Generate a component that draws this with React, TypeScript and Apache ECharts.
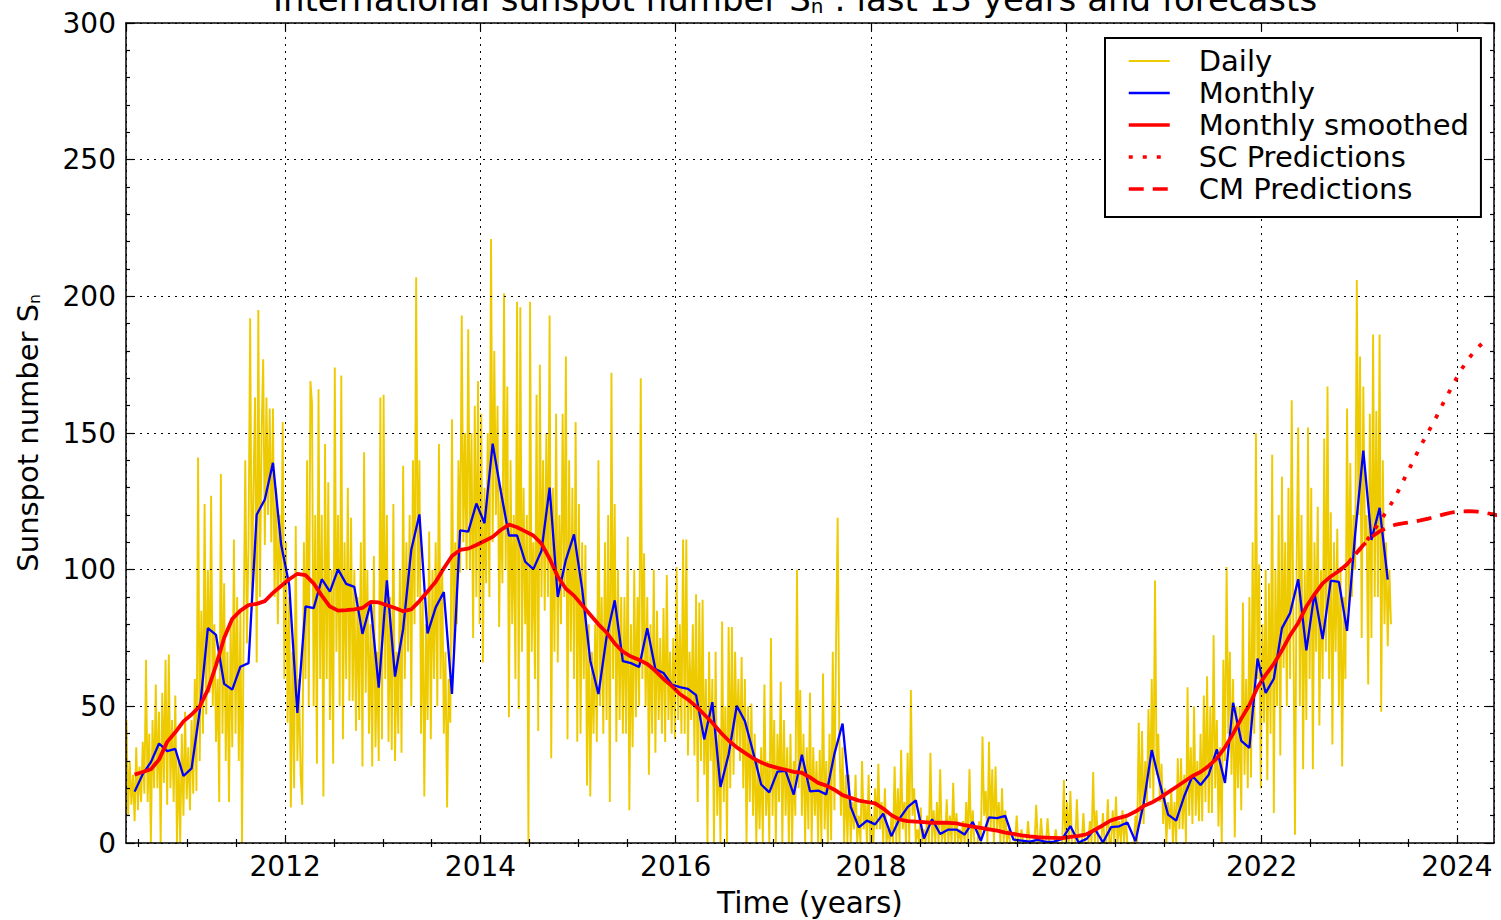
import React, { useEffect, useRef } from "react";
import * as echarts from "echarts";

// ---------------- data ----------------
// Daily sunspot number, sampled every 1/60 year starting at 2010.375
const DAILY_START = 2010.375;
const DAILY_STEP = 1 / 60;
const dailyValues: number[] = [
  45, 10, 30, 14, 25, 8, 35, 12, 28, 15, 37, 18, 67, 15, 40, 0, 45, 20, 58, 20, 48, 0, 55, 22,
  67, 14, 69, 20, 45, 15, 54, 0, 30, 0, 40, 10, 48, 16, 35, 12, 45, 18, 60, 19, 141, 30, 85, 40,
  124, 47, 100, 55, 127, 50, 80, 37, 60, 15, 135, 40, 95, 30, 70, 15, 80, 35, 111, 40, 90, 30, 85, 0,
  80, 140, 73, 110, 192, 85, 130, 163, 66, 195, 90, 150, 177, 109, 163, 120, 159, 110, 159, 90, 130, 80, 120, 95,
  154, 60, 110, 44, 90, 13, 70, 20, 116, 30, 60, 25, 14, 110, 60, 140, 50, 169, 161, 50, 120, 29, 166, 60,
  120, 17, 146, 60, 132, 45, 100, 29, 174, 70, 120, 50, 171, 38, 110, 60, 130, 52, 119, 52, 100, 41, 90, 45,
  110, 28, 143, 55, 100, 40, 80, 28, 105, 35, 70, 30, 163, 38, 164, 60, 120, 37, 90, 34, 124, 30, 70, 40,
  100, 33, 138, 60, 110, 70, 120, 50, 140, 80, 207, 90, 140, 40, 90, 17, 80, 45, 114, 38, 100, 60, 110, 50,
  146, 60, 100, 40, 70, 13, 60, 44, 155, 70, 110, 80, 140, 99, 193, 110, 150, 100, 188, 100, 150, 75, 160, 90,
  169, 80, 157, 66, 130, 95, 150, 90, 221, 110, 180, 120, 160, 79, 130, 95, 201, 100, 167, 46, 140, 80, 120, 60,
  198, 49, 196, 70, 130, 80, 120, 0, 198, 70, 110, 60, 164, 41, 175, 90, 140, 85, 150, 90, 193, 31, 130, 70,
  157, 66, 120, 80, 157, 90, 178, 38, 140, 70, 130, 60, 154, 37, 124, 40, 110, 60, 109, 21, 80, 17, 70, 40,
  80, 37, 140, 50, 90, 40, 110, 45, 120, 15, 172, 60, 124, 37, 100, 45, 90, 40, 90, 40, 112, 12, 80, 35,
  100, 46, 90, 50, 170, 60, 106, 50, 90, 25, 80, 40, 100, 33, 85, 45, 75, 40, 86, 37, 98, 45, 70, 40,
  75, 38, 101, 45, 80, 40, 111, 40, 111, 32, 70, 45, 80, 32, 91, 15, 88, 30, 89, 25, 60, 0, 70, 30,
  60, 0, 70, 10, 40, 0, 81, 15, 50, 0, 79, 20, 79, 25, 70, 35, 60, 30, 68, 20, 60, 0, 50, 15,
  51, 10, 40, 0, 30, 5, 35, 0, 58, 10, 30, 0, 75, 10, 45, 0, 40, 15, 59, 0, 45, 10, 35, 0,
  40, 0, 30, 10, 100, 20, 56, 10, 40, 0, 35, 5, 55, 0, 35, 10, 30, 0, 34, 0, 62, 5, 30, 0,
  40, 1, 70, 12, 73, 119, 41, 10, 35, 0, 25, 0, 25, 0, 15, 5, 25, 0, 10, 0, 30, 5, 15, 0,
  25, 0, 10, 0, 20, 5, 29, 5, 15, 0, 20, 0, 5, 0, 10, 0, 28, 0, 20, 0, 34, 5, 15, 0,
  33, 0, 56, 10, 20, 0, 5, 0, 13, 0, 5, 0, 10, 0, 33, 0, 12, 0, 15, 0, 27, 0, 8, 0,
  16, 0, 10, 0, 22, 0, 11, 0, 5, 0, 8, 0, 15, 0, 27, 0, 12, 0, 0, 0, 8, 0, 39, 10,
  19, 0, 37, 5, 27, 0, 28, 5, 15, 0, 20, 0, 12, 0, 5, 0, 0, 0, 0, 10, 0, 0, 5, 0,
  0, 0, 8, 0, 0, 0, 0, 14, 0, 0, 9, 0, 0, 0, 9, 0, 0, 0, 0, 5, 0, 0, 0, 0,
  23, 0, 15, 0, 19, 0, 0, 0, 16, 0, 0, 0, 11, 0, 0, 0, 8, 0, 26, 0, 12, 0, 0, 0,
  11, 0, 0, 16, 0, 0, 12, 0, 17, 0, 8, 0, 12, 0, 10, 0, 0, 0, 0, 0, 10, 0, 44, 7,
  41, 7, 30, 15, 49, 20, 60, 15, 96, 25, 40, 15, 29, 7, 20, 0, 15, 5, 20, 0, 15, 0, 31, 5,
  31, 5, 25, 0, 57, 10, 35, 7, 50, 10, 30, 8, 40, 8, 54, 15, 61, 11, 50, 11, 76, 20, 45, 6,
  35, 0, 67, 30, 101, 40, 70, 25, 60, 2, 50, 20, 50, 12, 88, 25, 60, 20, 90, 24, 110, 40, 150, 60,
  102, 20, 80, 44, 100, 23, 95, 40, 142, 11, 100, 50, 120, 32, 134, 64, 110, 50, 130, 60, 162, 80, 3, 100,
  152, 50, 120, 27, 100, 45, 152, 60, 130, 27, 110, 70, 123, 43, 100, 60, 148, 70, 167, 60, 121, 36, 110, 70,
  115, 50, 100, 28, 90, 60, 159, 85, 139, 90, 120, 100, 206, 120, 178, 75, 167, 110, 120, 58, 157, 75, 186, 90,
  158, 90, 186, 48, 140, 80, 110, 72, 100, 80,
];

// Monthly mean sunspot number, June 2010 .. April 2023
const MONTHLY_START: [number, number] = [2010, 6];
const monthlyValues: number[] = [
  18.8, 25.2, 29.6, 36.4, 33.6, 34.4, 24.5,
  27.3, 48.3, 78.6, 76.1, 58.2, 56.1, 64.5, 65.8, 120.1, 125.7, 139.1, 109.3,
  94.4, 47.6, 86.6, 85.9, 96.5, 92.0, 100.1, 94.8, 93.7, 76.5, 87.6, 56.8,
  96.1, 60.9, 78.3, 107.3, 120.2, 76.7, 86.2, 91.8, 54.5, 114.4, 113.9, 124.2,
  117.0, 146.1, 128.7, 112.5, 112.5, 102.9, 100.2, 106.9, 130.0, 90.0, 103.6, 112.9,
  93.0, 66.7, 54.5, 75.3, 88.8, 66.5, 65.8, 64.4, 78.6, 63.6, 62.2, 58.0,
  57.0, 56.4, 54.1, 37.9, 51.5, 20.5, 32.4, 50.2, 44.6, 33.4, 21.4, 18.5,
  26.1, 26.4, 17.7, 32.3, 18.9, 19.2, 17.8, 32.6, 43.7, 13.2, 5.7, 8.2,
  6.8, 10.7, 2.5, 8.9, 13.1, 15.6, 1.6, 8.7, 3.3, 4.9, 4.9, 3.1,
  7.7, 0.8, 9.4, 9.1, 9.9, 1.2, 0.9, 0.5, 1.1, 0.4, 0.5, 1.5,
  6.2, 0.2, 1.5, 5.2, 0.2, 5.8, 6.1, 7.5, 0.6, 14.4, 34.0, 21.8,
  10.4, 8.2, 17.2, 24.5, 21.2, 25.0, 34.3, 22.0, 51.3, 37.4, 34.8, 67.5,
  54.9, 60.1, 78.6, 84.1, 96.5, 70.5, 91.4, 74.6, 96.0, 95.5, 77.6, 113.1,
  143.6, 110.9, 122.6, 96.4,
];

// 13-month smoothed monthly sunspot number, June 2010 .. October 2022
const SMOOTHED_START: [number, number] = [2010, 6];
const smoothedValues: number[] = [
  25, 26, 27, 30.5, 37, 40.5, 44.5,
  47, 50, 56, 65, 75, 82, 85, 87, 87.5, 88.5, 91.5, 94,
  96.5, 98.5, 98, 95, 90.5, 86.5, 85, 85.2, 85.5, 86, 88.2, 88,
  87, 86, 84.8, 85.5, 88.5, 92, 95.6, 100.5, 105, 107.2, 107.7, 109,
  110.5, 112, 114.5, 116.5, 115.5, 114, 112.5, 109.5, 104, 97.5, 93, 90.5,
  87, 83.5, 80, 77, 73, 70, 68.2, 67, 65.5, 63, 60, 57.5,
  54.5, 52.5, 50, 47, 44, 40.5, 37.5, 35, 33, 31, 29.5, 28.3,
  27.5, 26.8, 26, 25.7, 24, 22, 21, 19.5, 17.5, 16.5, 15.5, 15,
  14.5, 12.6, 10.2, 8.6, 8, 7.8, 7.6, 7.4, 7.4, 7.4, 7.2, 6.5,
  6, 5.5, 5, 4.5, 3.8, 3.3, 2.8, 2.4, 2.1, 2.0, 1.9, 1.8,
  2.2, 2.6, 3.2, 4.8, 6.5, 8.3, 9.2, 10, 11.5, 13.5, 14.8, 16.5,
  18.5, 20.5, 22.5, 24.5, 26, 28.2, 31, 35, 40, 45.5, 50.5, 57,
  61.5, 65.5, 70.5, 76, 80.5, 86.5, 91, 95, 97.5, 99.5,
];

// Predictions, October 2022 onwards
const PRED_START: [number, number] = [2022, 10];
const scPredictions: number[] = [
  99.5, 102, 105.5, 109, 113, 117.5, 122, 127, 133, 139, 145, 150.5, 156, 162, 167.5, 173, 177.5, 181, 184,
];
const cmPredictions: number[] = [
  99.5, 102, 105.5, 109, 112, 114, 115.5, 116.5, 117, 117.5, 118, 118.7, 119.5, 120.3, 121, 121.3, 121.4,
  121.2, 120.8, 120.2, 119.5,
];

const xMinorTicks: number[] = [
  2010.5, 2011, 2011.5, 2012.5, 2013, 2013.5, 2014.5, 2015, 2015.5, 2016.5, 2017, 2017.5,
  2018.5, 2019, 2019.5, 2020.5, 2021, 2021.5, 2022.5, 2023, 2023.5,
];

const X_MIN = 2010.37;
const X_MAX = 2024.38;
const Y_MIN = 0;
const Y_MAX = 300;
const Y_INTERVAL = 50;

const TITLE = "International sunspot number S{sub|n} : last 13 years and forecasts";
const X_NAME = "Time (years)";
const Y_NAME = "Sunspot number S{sub|n}";
const LEGEND_NAMES = ["Daily", "Monthly", "Monthly smoothed", "SC Predictions", "CM Predictions"];

// ---------------- helpers ----------------
const FONT = "DejaVu Sans";
const monthX = (start: [number, number], i: number) => start[0] + (start[1] - 1 + i + 0.5) / 12;
const toMonthly = (start: [number, number], vals: number[]) => vals.map((v, i) => [monthX(start, i), v]);

export default function App() {
  const ref = useRef<HTMLDivElement>(null);

  useEffect(() => {
    if (!ref.current) return;
    const chart = echarts.init(ref.current, null, { renderer: "svg" });

    const black = "#000";
    const frame = { color: black, width: 1.5 };
    const tickStyle = { color: black, width: 1.2 };
    const gridLine = { color: black, width: 1, type: [2, 5] as number[] };
    const YELLOW = "#eecb00";
    const BLUE = "#0000ff";
    const RED = "#ff0000";
    const SC_DASH = [4, 10];
    const CM_DASH = [15, 9];

    const dailyData = dailyValues.map((v, i) => [DAILY_START + i * DAILY_STEP, v]);

    const option: any = {
      animation: false,
      backgroundColor: "#fff",
      grid: { left: 126, right: 7, top: 23, bottom: 77, containLabel: false, outerBoundsMode: "none" },
      graphic: [
        {
          type: "text",
          x: 795,
          y: -1,
          z: 20,
          style: {
            text: TITLE,
            fontSize: 34,
            fontFamily: FONT,
            fill: black,
            align: "center",
            verticalAlign: "middle",
            rich: { sub: { fontSize: 20, fontFamily: FONT, lineHeight: 12, verticalAlign: "bottom", fill: black } },
          },
        },
      ],
      xAxis: [
        {
          type: "value",
          position: "bottom",
          min: X_MIN,
          max: X_MAX,
          splitNumber: 7,
          z: 3,
          axisLine: { show: true, onZero: false, lineStyle: frame },
          axisTick: { show: true, inside: true, length: 8, lineStyle: tickStyle },
          axisLabel: {
            show: true,
            showMinLabel: false,
            showMaxLabel: false,
            color: black,
            fontSize: 28,
            fontFamily: FONT,
            margin: 9,
            formatter: (v: number) => String(Math.round(v)),
          },
          splitLine: { show: true, lineStyle: gridLine },
          name: X_NAME,
          nameLocation: "middle",
          nameGap: 45,
          nameTextStyle: { fontSize: 29.5, fontFamily: FONT, color: black },
        },
        {
          type: "value",
          position: "bottom",
          min: X_MIN,
          max: X_MAX,
          z: 3,
          axisLine: { show: false },
          axisLabel: { show: false },
          splitLine: { show: false },
          axisTick: { show: true, inside: true, length: 4, lineStyle: tickStyle, customValues: xMinorTicks },
        },
        {
          type: "value",
          position: "top",
          min: X_MIN,
          max: X_MAX,
          splitNumber: 7,
          z: 3,
          axisLine: { show: true, onZero: false, lineStyle: frame },
          axisTick: { show: true, inside: true, length: 8, lineStyle: tickStyle },
          axisLabel: { show: false },
          splitLine: { show: false },
        },
        {
          type: "value",
          position: "top",
          min: X_MIN,
          max: X_MAX,
          z: 3,
          axisLine: { show: false },
          axisLabel: { show: false },
          splitLine: { show: false },
          axisTick: { show: true, inside: true, length: 4, lineStyle: tickStyle, customValues: xMinorTicks },
        },
      ],
      yAxis: [
        {
          type: "value",
          position: "left",
          min: Y_MIN,
          max: Y_MAX,
          interval: Y_INTERVAL,
          z: 3,
          axisLine: { show: true, onZero: false, lineStyle: frame },
          axisTick: { show: true, inside: true, length: 8, lineStyle: tickStyle },
          minorTick: { show: true, splitNumber: 5, length: 4, lineStyle: tickStyle },
          axisLabel: { show: true, color: black, fontSize: 28, fontFamily: FONT, margin: 10 },
          splitLine: { show: true, lineStyle: gridLine },
          name: Y_NAME,
          nameLocation: "middle",
          nameGap: 84,
          nameRotate: 90,
          nameTextStyle: {
            fontSize: 29,
            fontFamily: FONT,
            color: black,
            rich: { sub: { fontSize: 15, fontFamily: FONT, color: black, lineHeight: 4, verticalAlign: "bottom" } },
          },
        },
        {
          type: "value",
          position: "right",
          min: Y_MIN,
          max: Y_MAX,
          interval: Y_INTERVAL,
          z: 3,
          axisLine: { show: true, onZero: false, lineStyle: frame },
          axisTick: { show: true, inside: true, length: 8, lineStyle: tickStyle },
          minorTick: { show: true, splitNumber: 5, length: 4, lineStyle: tickStyle },
          axisLabel: { show: false },
          splitLine: { show: false },
        },
      ],
      legend: {
        show: true,
        orient: "vertical",
        left: 1105,
        top: 38,
        z: 10,
        padding: [7, 12, 12, 22],
        itemGap: 0,
        itemWidth: 41,
        itemHeight: 14,
        backgroundColor: "#fff",
        borderColor: black,
        borderWidth: 2,
        borderRadius: 0,
        selectedMode: false,
        itemStyle: { opacity: 0 },
        textStyle: { fontSize: 29, fontFamily: FONT, color: black, lineHeight: 32, padding: [0, 0, 0, 24] },
        data: [
          { name: LEGEND_NAMES[0], lineStyle: { color: YELLOW, width: 2 } },
          { name: LEGEND_NAMES[1], lineStyle: { color: BLUE, width: 2.5 } },
          { name: LEGEND_NAMES[2], lineStyle: { color: RED, width: 3.5 } },
          { name: LEGEND_NAMES[3], lineStyle: { color: RED, width: 3.5, type: SC_DASH } },
          { name: LEGEND_NAMES[4], lineStyle: { color: RED, width: 3.5, type: CM_DASH } },
        ],
      },
      series: [
        {
          name: LEGEND_NAMES[0],
          type: "line",
          data: dailyData,
          symbol: "none",
          silent: true,
          z: 1,
          lineStyle: { color: YELLOW, width: 1.9, join: "bevel" },
          itemStyle: { color: YELLOW },
        },
        {
          name: LEGEND_NAMES[1],
          type: "line",
          data: toMonthly(MONTHLY_START, monthlyValues),
          symbol: "none",
          silent: true,
          z: 2,
          lineStyle: { color: BLUE, width: 2.3 },
          itemStyle: { color: BLUE },
        },
        {
          name: LEGEND_NAMES[2],
          type: "line",
          data: toMonthly(SMOOTHED_START, smoothedValues),
          symbol: "none",
          silent: true,
          z: 2,
          lineStyle: { color: RED, width: 3.8 },
          itemStyle: { color: RED },
        },
        {
          name: LEGEND_NAMES[3],
          type: "line",
          data: toMonthly(PRED_START, scPredictions),
          symbol: "none",
          silent: true,
          z: 2,
          lineStyle: { color: RED, width: 3.8, type: SC_DASH },
          itemStyle: { color: RED },
        },
        {
          name: LEGEND_NAMES[4],
          type: "line",
          data: toMonthly(PRED_START, cmPredictions),
          symbol: "none",
          silent: true,
          z: 2,
          lineStyle: { color: RED, width: 3.8, type: CM_DASH },
          itemStyle: { color: RED },
        },
      ],
    };

    chart.setOption(option);
    return () => chart.dispose();
  }, []);

  return (
    <div
      ref={ref}
      style={{ position: "absolute", left: 0, top: 0, width: 1501, height: 920, background: "#fff" }}
    />
  );
}
